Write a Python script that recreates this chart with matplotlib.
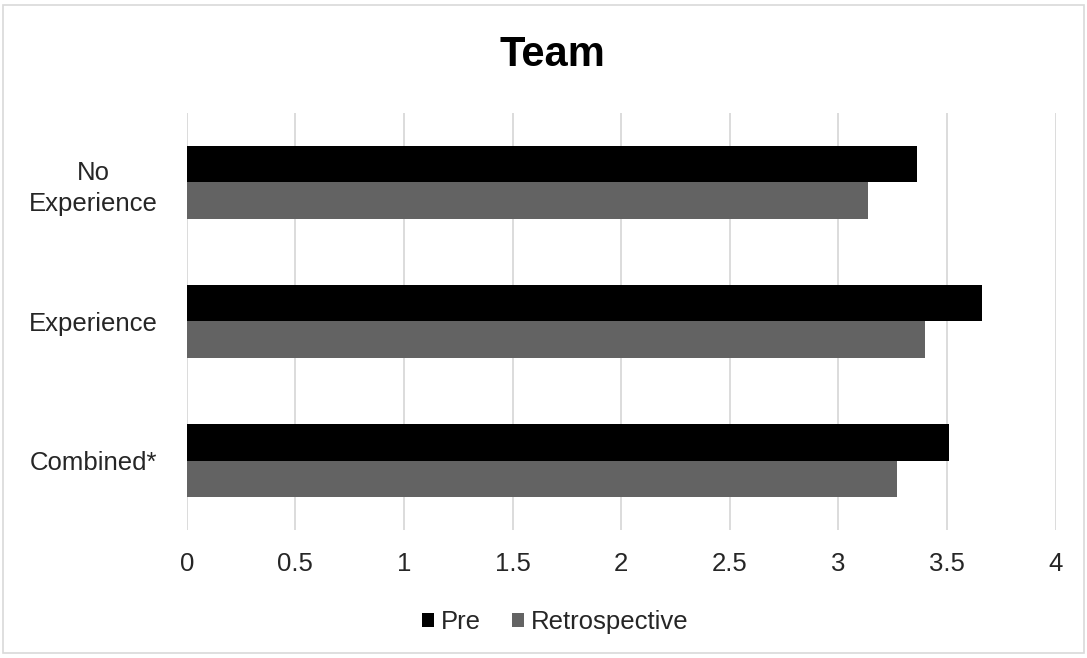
import numpy as np
import matplotlib.pyplot as plt
from matplotlib.patches import Rectangle

plt.rcParams['font.family'] = ['Liberation Sans', 'DejaVu Sans']

# dados do gráfico
categorias = ['Combined*', 'Experience', 'No\nExperience']
pre = [3.51, 3.66, 3.36]
retrospectiva = [3.27, 3.40, 3.135]
ticks_x = [0, 0.5, 1, 1.5, 2, 2.5, 3, 3.5, 4]

cor_pre = '#000000'
cor_retro = '#636363'
cor_texto = '#262626'

fig = plt.figure(figsize=(10.87, 6.58), dpi=100)
ax = fig.add_axes([0.1718, 0.1945, 0.7994, 0.6338])

y = np.arange(len(categorias))
altura = 0.26
ax.barh(y + altura / 2, pre, height=altura, color=cor_pre, label='Pre', zorder=3)
ax.barh(y - altura / 2, retrospectiva, height=altura, color=cor_retro,
        label='Retrospective', zorder=3)

ax.set_xlim(0, 4)
ax.set_ylim(-0.5, 2.5)
ax.set_xticks(ticks_x)
ax.set_xticklabels([f'{t:g}' for t in ticks_x])
ax.set_yticks(y)
ax.set_yticklabels(categorias, linespacing=1.35)
ax.tick_params(axis='both', length=0, labelsize=18.5, colors=cor_texto)
ax.tick_params(axis='x', pad=16)
ax.tick_params(axis='y', pad=67)
for lbl in ax.get_yticklabels():
    lbl.set_horizontalalignment('center')
ax.grid(axis='x', color='#d9d9d9', linewidth=1.3, zorder=0)
for s in ax.spines.values():
    s.set_visible(False)

fig.suptitle('Team', fontsize=30, fontweight='bold', x=0.508, y=0.947, color='black')

fig.legend(loc='center', bbox_to_anchor=(0.511, 0.055), ncol=2, frameon=False,
           fontsize=18.5, handlelength=0.45, handleheight=0.45, handletextpad=0.3,
           columnspacing=1.2, labelcolor=cor_texto)

# borda da figura
fig.patches.append(Rectangle((0.003, 0.008), 0.994, 0.984, transform=fig.transFigure,
                             fill=False, edgecolor='#d9d9d9', linewidth=1.2))

plt.savefig('out.png', dpi=100)
